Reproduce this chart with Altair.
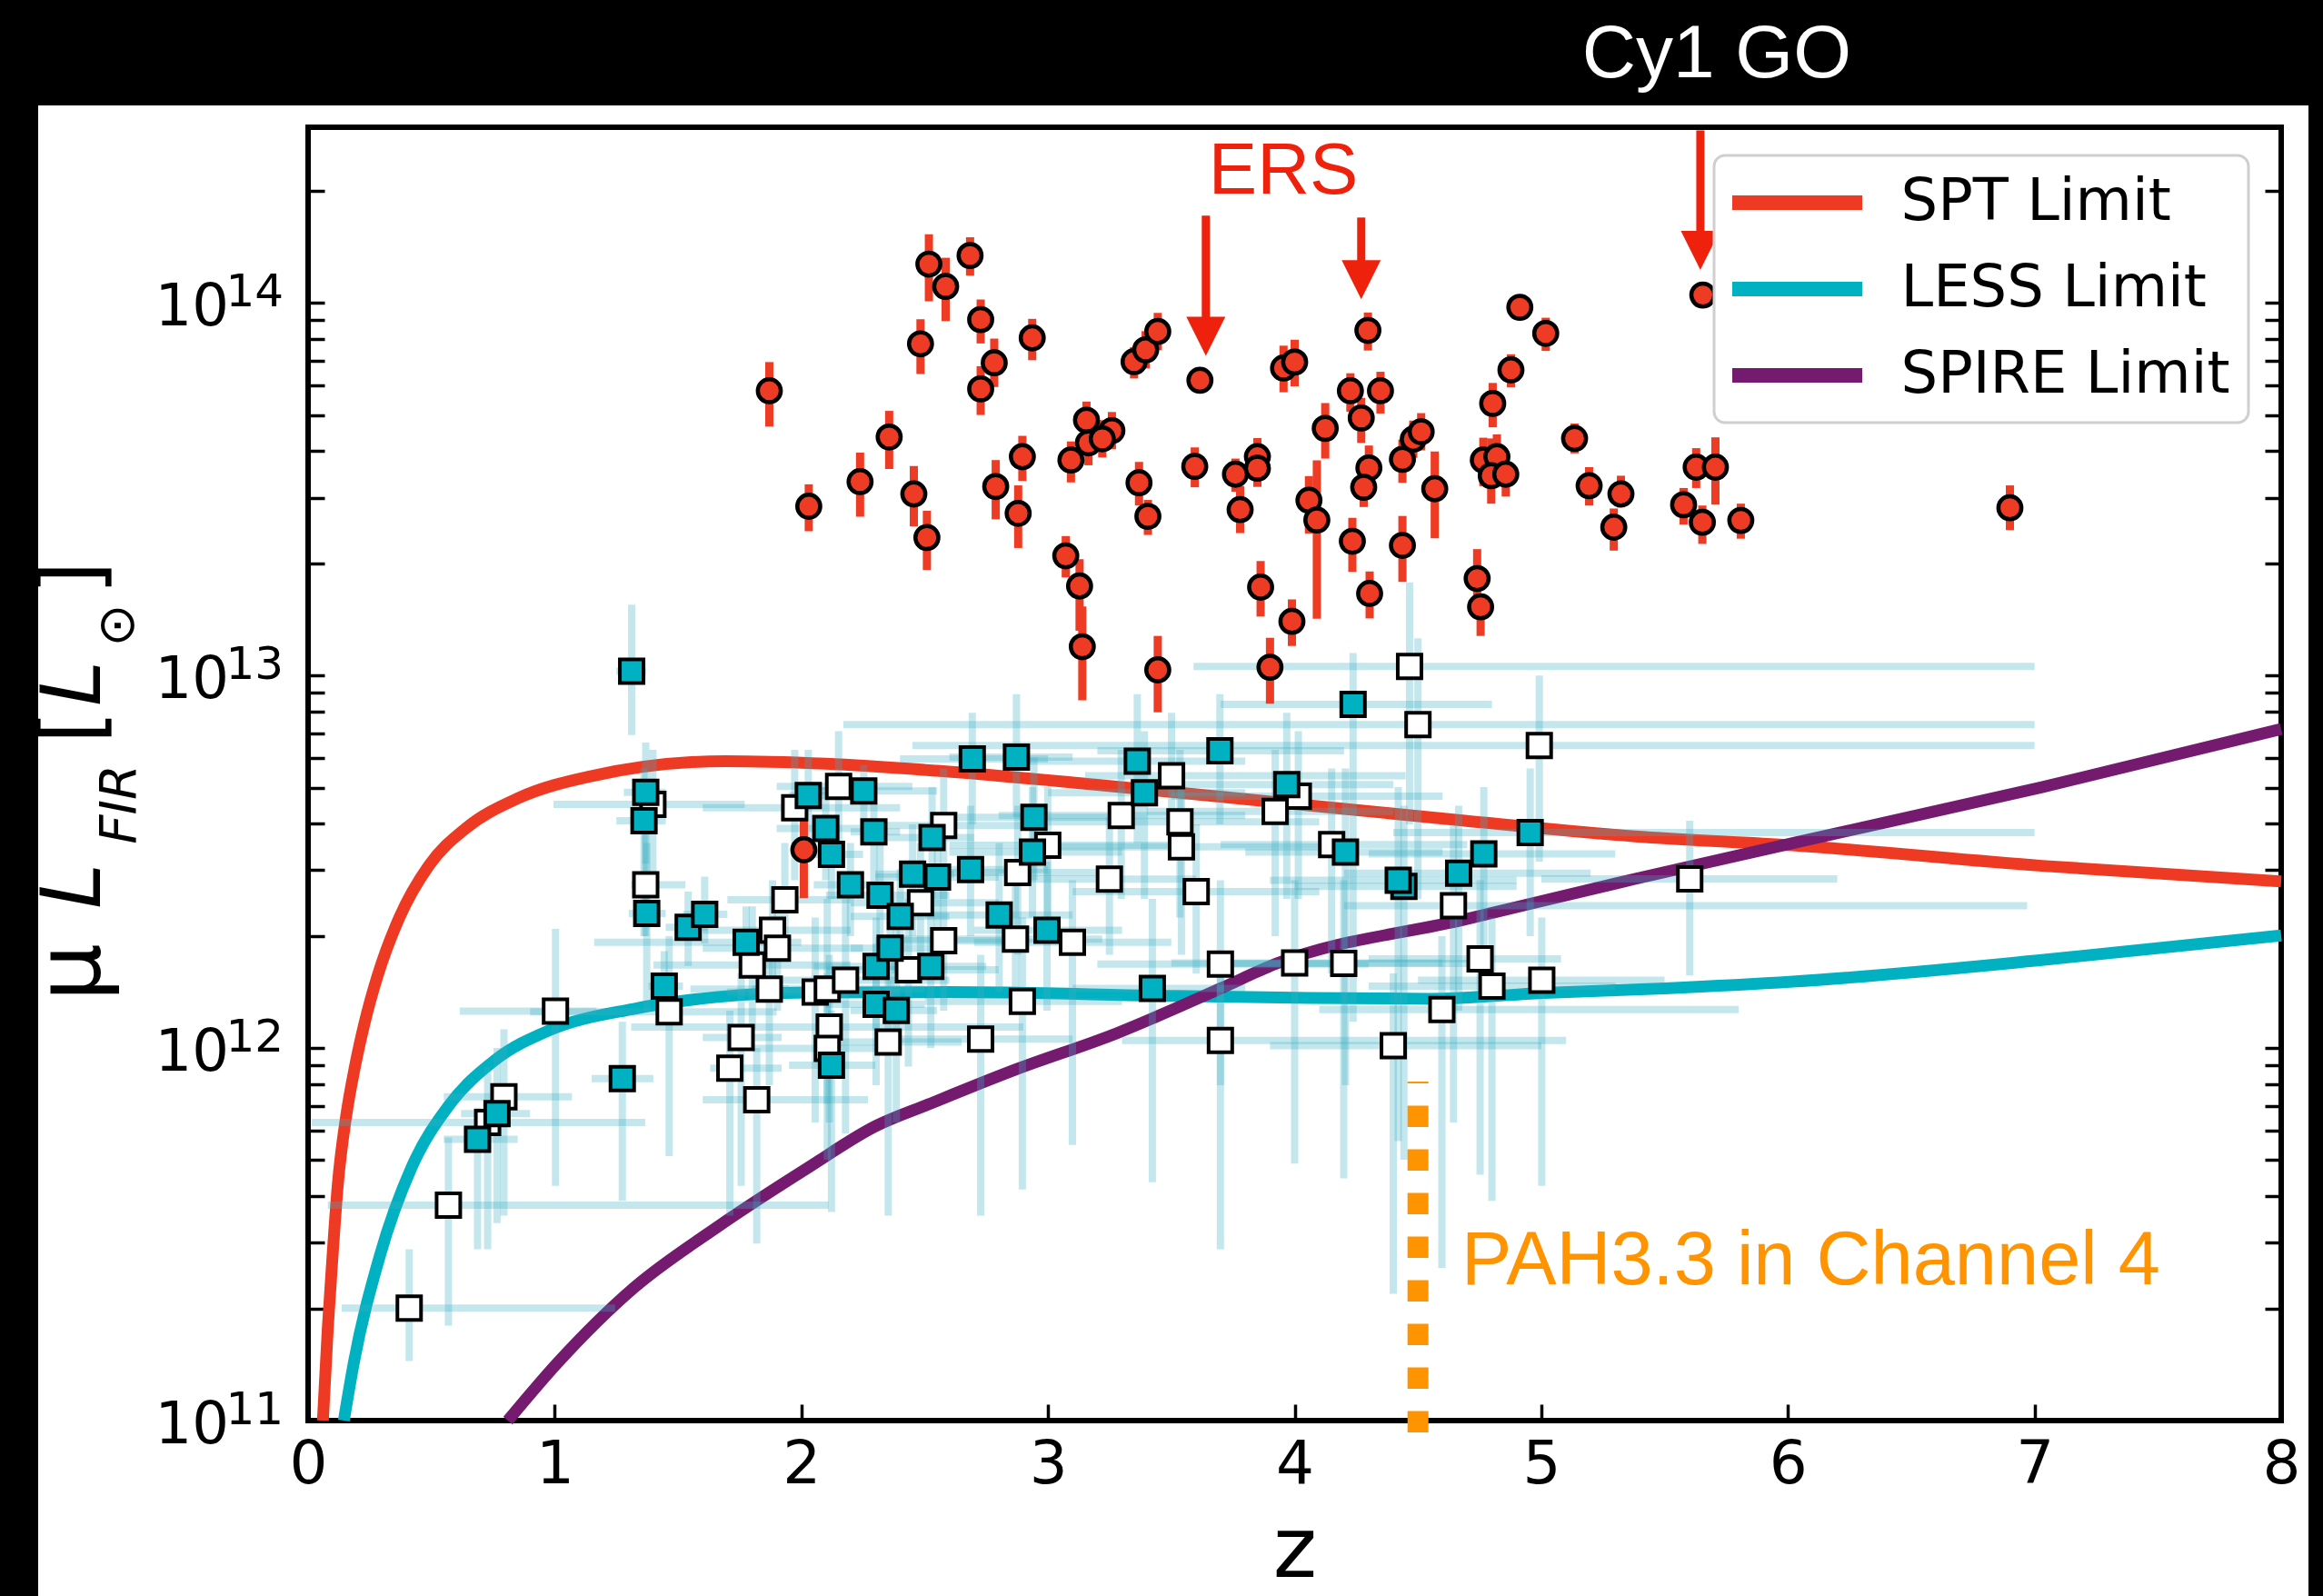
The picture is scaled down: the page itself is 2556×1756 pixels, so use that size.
import altair as alt
import pandas as pd

# ---------------- detection-limit curves ----------------
spt_z = [0.06, 0.08, 0.10, 0.12, 0.155, 0.19, 0.23, 0.28, 0.37, 0.49, 0.64, 0.85, 1.15,
         1.69, 2.10, 2.55, 3.19, 3.94, 4.69, 5.38, 6.02, 7.03, 8.0]
spt_logL = [11.0, 11.25, 11.45, 11.63, 11.82, 11.95, 12.07, 12.19, 12.35, 12.49, 12.59, 12.67, 12.73,
            12.77, 12.763, 12.744, 12.707, 12.659, 12.61, 12.568, 12.544, 12.489, 12.447]

less_z = [0.145, 0.185, 0.29, 0.42, 0.57, 0.755, 0.98, 1.32, 1.66, 2.03, 2.6, 3.49, 4.0,
          4.55, 5.01, 5.5, 6.02, 7.03, 8.0]
less_logL = [11.0, 11.154, 11.44, 11.68, 11.845, 11.966, 12.048, 12.105, 12.137, 12.149, 12.15,
             12.14, 12.135, 12.132, 12.148, 12.16, 12.178, 12.236, 12.302]

spire_z = [0.81, 1.01, 1.32, 1.66, 2.03, 2.30, 2.52, 2.86, 3.28, 3.70, 3.92, 4.69, 5.38,
           6.02, 7.03, 8.0]
spire_logL = [11.0, 11.154, 11.356, 11.52, 11.68, 11.79, 11.85, 11.94, 12.04, 12.16, 12.225,
              12.345, 12.454, 12.55, 12.70, 12.856]

curve_names = ["SPT Limit", "LESS Limit", "SPIRE Limit"]
curve_colors = ["#EE3A23", "#00B1C1", "#741B6F"]

# ---------------- SPT sources (red circles): z, log L, error down/up (dex) ----------------
spt_src_z = [1.87, 2.03, 2.238, 2.356, 2.456, 2.509, 2.483, 2.517, 2.585, 2.684,
             2.727, 2.782, 2.727, 2.936, 2.788, 2.896, 2.879, 3.072, 3.128, 3.139,
             3.093, 3.156, 3.164, 3.259, 3.22, 3.349, 3.396, 3.445, 3.616, 3.955,
             4.0, 4.297, 4.226, 4.348, 4.27, 4.124, 4.913, 5.018, 4.877, 4.803,
             5.655, 5.135, 3.369, 3.405, 3.595, 3.76, 3.849, 3.849, 3.779, 4.058,
             4.09, 4.301, 4.28, 4.437, 4.481, 4.513, 4.568, 4.765, 4.82, 4.797,
             4.856, 5.194, 5.323, 5.294, 5.577, 5.628, 5.706, 5.653, 5.809, 3.445,
             3.862, 3.989, 3.9, 4.234, 4.304, 4.437, 4.74, 4.754, 6.90, 2.01]
spt_src_logL = [13.764, 13.454, 13.52, 13.64, 13.487, 13.370, 13.89, 14.104, 14.044, 14.127,
                13.955, 13.839, 13.769, 13.906, 13.507, 13.587, 13.435, 13.321, 13.24, 13.077,
                13.578, 13.685, 13.624, 13.657, 13.635, 13.842, 13.874, 13.923, 13.792, 13.825,
                13.841, 13.926, 13.764, 13.764, 13.691, 13.663, 13.988, 13.918, 13.82, 13.73,
                14.021, 13.636, 13.517, 13.427, 13.561, 13.54, 13.587, 13.556, 13.445, 13.47,
                13.417, 13.557, 13.505, 13.58, 13.634, 13.654, 13.501, 13.578, 13.587, 13.536,
                13.54, 13.509, 13.487, 13.398, 13.458, 13.559, 13.559, 13.411, 13.416, 13.015,
                13.237, 13.145, 13.022, 13.36, 13.22, 13.349, 13.26, 13.184, 13.45, 12.532]
spt_src_err_lo = [0.096, 0.067, 0.094, 0.086, 0.087, 0.087, 0.081, 0.10, 0.093, 0.054,
                  0.064, 0.065, 0.07, 0.06, 0.088, 0.065, 0.093, 0.058, 0.12, 0.144,
                  0.06, 0.06, 0.06, 0.05, 0.05, 0.045, 0.05, 0.05, 0.02, 0.065,
                  0.065, 0.054, 0.056, 0.061, 0.067, 0.081, 0.03, 0.047, 0.047, 0.064,
                  0.02, 0.04, 0.061, 0.05, 0.056, 0.047, 0.05, 0.05, 0.063, 0.089,
                  0.265, 0.064, 0.053, 0.063, 0.05, 0.05, 0.133, 0.07, 0.07, 0.075,
                  0.06, 0.053, 0.036, 0.063, 0.053, 0.056, 0.10, 0.058, 0.049, 0.114,
                  0.079, 0.066, 0.098, 0.082, 0.067, 0.098, 0.07, 0.078, 0.06, 0.13]
spt_src_err_hi = [0.077, 0.059, 0.078, 0.07, 0.075, 0.072, 0.066, 0.08, 0.077, 0.049,
                  0.054, 0.065, 0.061, 0.051, 0.071, 0.056, 0.075, 0.053, 0.072, 0.108,
                  0.05, 0.05, 0.05, 0.05, 0.05, 0.039, 0.05, 0.05, 0.02, 0.06,
                  0.06, 0.048, 0.047, 0.051, 0.054, 0.068, 0.03, 0.042, 0.042, 0.055,
                  0.02, 0.04, 0.056, 0.044, 0.051, 0.042, 0.05, 0.05, 0.063, 0.065,
                  0.16, 0.06, 0.059, 0.053, 0.05, 0.05, 0.10, 0.06, 0.06, 0.10,
                  0.047, 0.05, 0.049, 0.05, 0.045, 0.051, 0.08, 0.045, 0.045, 0.091,
                  0.07, 0.059, 0.079, 0.063, 0.059, 0.079, 0.079, 0.035, 0.06, 0.11]

# ---------------- filled (cyan) squares: z, log L, z range, log L range ----------------
less_src_z = [0.687, 0.766, 1.274, 1.312, 1.369, 1.362, 1.373, 1.541, 1.608, 1.444,
              1.776, 2.028, 2.253, 2.099, 2.294, 2.122, 2.199, 2.319, 2.401, 2.451,
              2.53, 2.122, 2.303, 2.385, 2.303, 2.525, 2.36, 2.693, 2.872, 3.362,
              3.391, 3.697, 4.237, 3.968, 4.206, 4.955, 4.767, 4.665, 4.443, 4.42,
              2.686, 2.943, 2.937, 2.552, 2.802, 2.996, 3.423]
less_src_logL = [11.755, 11.824, 11.918, 13.011, 12.686, 12.61, 12.361, 12.324, 12.359, 12.166,
                 12.284, 12.678, 12.69, 12.589, 12.58, 12.52, 12.438, 12.41, 12.353, 12.467,
                 12.565, 11.954, 12.117, 12.101, 12.219, 12.219, 12.268, 12.776, 12.781, 12.77,
                 12.685, 12.798, 12.922, 12.707, 12.526, 12.578, 12.521, 12.469, 12.434, 12.45,
                 12.479, 12.619, 12.526, 12.459, 12.357, 12.316, 12.16]
less_src_zlo = [0.55, 0.62, 1.15, 1.25, 1.28, 1.25, 1.30, 1.45, 1.52, 1.38,
                1.16, 1.95, 2.03, 1.90, 2.20, 2.00, 2.05, 2.10, 2.20, 2.30,
                2.35, 1.95, 2.10, 2.20, 2.05, 2.35, 2.20, 2.40, 2.60, 2.90,
                3.00, 3.20, 3.70, 3.50, 3.80, 4.40, 4.30, 4.20, 4.00, 3.90,
                2.40, 2.60, 2.60, 2.30, 2.50, 2.70, 3.10]
less_src_zhi = [0.85, 0.90, 1.40, 1.37, 1.45, 1.45, 1.45, 1.62, 1.70, 1.52,
                2.00, 2.12, 2.55, 2.30, 2.40, 2.25, 2.35, 2.60, 2.60, 2.62,
                2.70, 2.30, 2.50, 2.55, 2.55, 2.75, 2.55, 3.00, 3.10, 3.80,
                3.80, 4.20, 4.80, 4.40, 4.60, 7.00, 5.30, 5.20, 4.90, 4.90,
                3.00, 3.30, 3.30, 2.80, 3.10, 3.30, 3.80]
less_src_llo = [11.46, 11.53, 11.59, 12.84, 12.495, 12.30, 12.10, 12.22, 12.28, 12.07,
                12.20, 12.55, 12.60, 12.45, 12.40, 12.40, 12.30, 12.25, 12.20, 12.30,
                12.40, 11.56, 11.90, 11.80, 12.05, 12.00, 12.10, 12.60, 12.62, 12.55,
                12.40, 12.60, 12.07, 12.40, 11.90, 12.30, 12.20, 12.10, 11.70, 11.75,
                12.30, 12.45, 12.35, 12.25, 12.15, 12.10, 11.64]
less_src_lhi = [11.84, 12.00, 12.07, 13.19, 12.82, 12.75, 12.55, 12.42, 12.46, 12.26,
                12.38, 12.80, 12.76, 12.70, 12.72, 12.60, 12.55, 12.55, 12.48, 12.60,
                12.70, 12.10, 12.28, 12.35, 12.35, 12.40, 12.40, 12.90, 12.95, 12.95,
                12.85, 12.95, 13.06, 12.90, 12.75, 12.75, 12.70, 12.65, 12.65, 12.70,
                12.65, 12.78, 12.70, 12.60, 12.55, 12.50, 12.40]

# ---------------- open (white) squares ----------------
open_src_z = [0.41, 0.569, 0.728, 0.794, 1.003, 1.398, 1.369, 1.464, 1.973, 2.151,
              1.933, 1.883, 1.903, 1.801, 1.87, 2.056, 2.105, 2.179, 2.113, 2.105,
              1.756, 1.71, 1.819, 2.352, 2.434, 2.483, 2.577, 2.577, 2.999, 2.877,
              2.868, 3.099, 2.896, 2.727, 3.501, 3.297, 4.466, 4.5, 4.992, 4.015,
              3.921, 3.535, 3.541, 4.15, 4.644, 3.601, 3.249, 3.699, 4.0, 4.199,
              4.752, 4.8, 5.002, 4.597, 3.699, 4.4, 5.602]
open_src_logL = [11.302, 11.578, 11.80, 11.869, 12.099, 12.654, 12.438, 12.097, 12.645, 12.702,
                 12.398, 12.316, 12.268, 12.223, 12.158, 12.15, 12.158, 12.182, 12.056, 11.999,
                 12.028, 11.946, 11.861, 12.016, 12.21, 12.39, 12.597, 12.288, 12.544, 12.471,
                 12.292, 12.284, 12.125, 12.024, 12.731, 12.624, 13.024, 12.868, 12.812, 12.676,
                 12.635, 12.607, 12.54, 12.546, 12.382, 12.42, 12.453, 12.225, 12.228, 12.227,
                 12.239, 12.166, 12.182, 12.103, 12.02, 12.006, 12.454]
open_src_zlo = [0.136, 0.08, 0.014, 0.55, 0.615, 0.995, 1.31, 0.90, 1.60, 1.90,
                1.70, 1.60, 1.60, 1.40, 1.55, 1.70, 1.80, 1.90, 1.31, 1.80,
                1.60, 1.63, 1.60, 2.05, 2.10, 2.20, 2.30, 2.30, 2.60, 2.50,
                2.40, 2.70, 2.50, 2.40, 3.15, 2.80, 3.59, 2.17, 2.45, 3.50,
                3.40, 3.00, 3.00, 3.70, 4.20, 3.10, 2.90, 3.20, 3.50, 3.70,
                4.30, 4.30, 4.50, 4.10, 3.30, 3.90, 5.00]
open_src_zhi = [1.245, 2.11, 1.367, 1.07, 1.17, 1.77, 1.53, 1.90, 2.40, 2.45,
                2.20, 2.20, 2.25, 2.20, 1.95, 2.40, 2.50, 2.60, 2.90, 2.40,
                1.92, 1.92, 2.27, 2.65, 2.80, 2.80, 2.90, 2.90, 3.50, 3.30,
                3.22, 3.50, 3.30, 3.10, 4.45, 3.80, 7.00, 7.00, 7.00, 4.60,
                4.40, 4.10, 4.20, 4.70, 6.97, 4.10, 3.60, 4.30, 4.60, 4.70,
                5.08, 5.30, 5.50, 5.80, 5.10, 5.00, 6.20]
open_src_llo = [11.16, 11.255, 11.46, 11.55, 11.63, 12.45, 12.30, 11.71, 12.45, 12.55,
                12.25, 12.15, 12.10, 12.05, 11.90, 11.80, 11.85, 11.77, 11.80, 11.70,
                11.63, 11.55, 11.475, 11.55, 11.95, 12.20, 12.40, 12.10, 12.35, 12.25,
                12.10, 11.74, 11.62, 11.55, 12.55, 12.40, 12.60, 12.40, 12.50, 12.40,
                12.30, 12.35, 12.25, 12.20, 11.80, 12.20, 12.25, 11.90, 11.69, 11.65,
                11.66, 11.59, 11.63, 11.41, 11.46, 11.34, 12.195]
open_src_lhi = [11.46, 11.76, 11.95, 12.05, 12.32, 12.80, 12.58, 12.30, 12.80, 12.85,
                12.55, 12.45, 12.40, 12.38, 12.35, 12.35, 12.40, 12.40, 12.25, 12.20,
                12.20, 12.10, 12.00, 12.20, 12.40, 12.55, 12.75, 12.45, 12.70, 12.65,
                12.45, 12.45, 12.35, 12.25, 12.90, 12.80, 13.25, 13.10, 13.00, 12.85,
                12.80, 12.80, 12.70, 12.75, 12.60, 12.60, 12.62, 12.45, 12.45, 12.45,
                12.45, 12.35, 12.35, 12.30, 12.20, 12.20, 12.61]

# ---------------- annotations ----------------
arrow_z = [3.64, 4.27, 5.645]
arrow_top_logL = [14.234, 14.229, 14.463]
arrow_end_logL = [13.94, 14.10, 14.18]
arrow_head_logL = [13.910, 14.062, 14.141]
ers_pos = (3.954, 14.293)
cy1_pos = (5.711, 14.605)
pah_z = 4.5
pah_span_logL = (10.968, 11.91)
pah_text_pos = (4.676, 11.366)

x_tick_values = list(range(9))
y_label_decades = [11, 12, 13, 14]
y_tick_values = [m * 10 ** e for e in range(11, 15) for m in range(1, 10) if m * 10 ** e <= 2.96e14]

# ---------------- tables ----------------
curve_df = pd.concat(
    [pd.DataFrame({"curve": n, "z": zz, "logL": ll})
     for n, zz, ll in zip(curve_names, [spt_z, less_z, spire_z], [spt_logL, less_logL, spire_logL])],
    ignore_index=True)
curve_df["L"] = 10 ** curve_df["logL"]

red_df = pd.DataFrame({"z": spt_src_z, "logL": spt_src_logL,
                       "elo": spt_src_err_lo, "ehi": spt_src_err_hi})
red_df["L"] = 10 ** red_df["logL"]
red_df["Llo"] = 10 ** (red_df["logL"] - red_df["elo"])
red_df["Lhi"] = 10 ** (red_df["logL"] + red_df["ehi"])


def sq_table(z, l, zlo, zhi, llo, lhi):
    d = pd.DataFrame({"z": z, "logL": l, "zlo": zlo, "zhi": zhi, "llo": llo, "lhi": lhi})
    d["L"] = 10 ** d["logL"]
    d["Llo"] = 10 ** d["llo"]
    d["Lhi"] = 10 ** d["lhi"]
    return d


cyan_df = sq_table(less_src_z, less_src_logL, less_src_zlo, less_src_zhi, less_src_llo, less_src_lhi)
open_df = sq_table(open_src_z, open_src_logL, open_src_zlo, open_src_zhi, open_src_llo, open_src_lhi)
sq_all = pd.concat([open_df, cyan_df], ignore_index=True)

arrow_df = pd.DataFrame({"z": arrow_z,
                         "top": [10 ** v for v in arrow_top_logL],
                         "end": [10 ** v for v in arrow_end_logL],
                         "head": [10 ** v for v in arrow_head_logL]})
ylab_df = pd.DataFrame({"L": [10 ** k for k in y_label_decades],
                        "base": ["10"] * len(y_label_decades),
                        "exp": [str(k) for k in y_label_decades]})
one = pd.DataFrame({"k": [0]})

# ---------------- scales & axes ----------------
W, H = 2171, 1423
xs = alt.Scale(domain=[0, 8], nice=False, zero=False)
ys = alt.Scale(type="log", domain=[1e11, 2.96e14], nice=False)

RED = "#EE3B24"
ARROW = "#EE220C"
CYAN = "#00B1C1"
ORANGE = "#FF9300"
ERRC = "#3DB0C4"

x_axis = alt.Axis(orient="bottom", values=x_tick_values, format="d", tickSize=18, offset=-18,
                  domain=False, grid=False, tickColor="black", tickWidth=3.5,
                  labelFont="DejaVu Sans", labelFontSize=66, labelColor="black", labelPadding=16,
                  labelFlush=False, labelOverlap=False, title="z", titleFont="DejaVu Sans",
                  titleFontSize=92, titleFontWeight="normal", titleColor="black",
                  titleBaseline="alphabetic", titleY=189)
y_axis = alt.Axis(orient="left", values=y_tick_values, labels=False, tickSize=18, offset=-18,
                  domain=False, grid=False, tickColor="black", tickWidth=3.5, title=None)
y_axis_right = alt.Axis(orient="right", values=y_tick_values, labels=False, tickSize=18, offset=-18,
                        domain=False, grid=False, tickColor="black", tickWidth=3.5, title=None)


def X(f):
    return alt.X(f, type="quantitative", scale=xs)


def Y(f):
    return alt.Y(f, type="quantitative", scale=ys)


def XD(v):
    return alt.XDatum(v, type="quantitative", scale=xs)


def YD(v):
    return alt.YDatum(v, type="quantitative", scale=ys)


legend = alt.Legend(orient="none", legendX=1547, legendY=31, direction="vertical", title=None,
                    symbolType="M-3,0L3,0", symbolSize=2272, symbolStrokeWidth=16,
                    symbolOffset=39.5, labelOffset=82, labelFont="DejaVu Sans", labelFontSize=64,
                    labelColor="black", labelLimit=1000, padding=20, rowPadding=31,
                    fillColor="white", strokeColor="#cfcfcf", cornerRadius=12)

# ---------------- layers ----------------
bg_top = alt.Chart(one).mark_rect(color="black").encode(
    x=alt.value(-339), x2=alt.value(2217), y=alt.value(-140), y2=alt.value(-24))
bg_left = alt.Chart(one).mark_rect(color="black").encode(
    x=alt.value(-339), x2=alt.value(-297), y=alt.value(-140), y2=alt.value(1616))
bg_right = alt.Chart(one).mark_rect(color="black").encode(
    x=alt.value(2201), x2=alt.value(2217), y=alt.value(-140), y2=alt.value(1616))

curves = alt.Chart(curve_df).mark_line(strokeWidth=13, interpolate="monotone").encode(
    x=alt.X("z:Q", scale=xs, axis=x_axis),
    y=alt.Y("L:Q", scale=ys, axis=y_axis),
    color=alt.Color("curve:N", scale=alt.Scale(domain=curve_names, range=curve_colors), legend=legend),
)

sq_xerr = alt.Chart(sq_all).mark_rule(strokeWidth=8, color=ERRC, opacity=0.3).encode(
    x=X("zlo"), x2="zhi:Q", y=Y("L"))
sq_yerr = alt.Chart(sq_all).mark_rule(strokeWidth=8, color=ERRC, opacity=0.3).encode(
    x=X("z"), y=Y("Llo"), y2="Lhi:Q")
red_err = alt.Chart(red_df).mark_rule(strokeWidth=9, color=RED).encode(
    x=X("z"), y=Y("Llo"), y2="Lhi:Q")

open_pts = alt.Chart(open_df).mark_point(shape="square", filled=True, fill="white", stroke="black",
                                         strokeWidth=4, size=676, opacity=1).encode(x=X("z"), y=Y("L"))
cyan_pts = alt.Chart(cyan_df).mark_point(shape="square", filled=True, fill=CYAN, stroke="black",
                                         strokeWidth=4, size=676, opacity=1).encode(x=X("z"), y=Y("L"))
red_pts = alt.Chart(red_df).mark_point(shape="circle", filled=True, fill=RED, stroke="black",
                                       strokeWidth=4.5, size=640, opacity=1).encode(x=X("z"), y=Y("L"))

pah_line = alt.Chart(one).mark_rule(color=ORANGE, strokeWidth=23, strokeDash=[23.5, 24.5]).encode(
    x=XD(pah_z), y=YD(10 ** pah_span_logL[0]), y2=alt.Y2Datum(10 ** pah_span_logL[1]))
pah_text = alt.Chart(one).mark_text(text="PAH3.3 in Channel 4", align="left", baseline="alphabetic",
                                    font="Liberation Sans", fontSize=83, color=ORANGE).encode(
    x=XD(pah_text_pos[0]), y=YD(10 ** pah_text_pos[1]))

arrow_shafts = alt.Chart(arrow_df).mark_rule(color=ARROW, strokeWidth=9).encode(
    x=X("z"), y=Y("top"), y2="end:Q")
arrow_heads = alt.Chart(arrow_df).mark_point(shape="M-1,-1L1,-1L0,1Z", filled=True, fill=ARROW,
                                             strokeWidth=0, size=1849, opacity=1).encode(
    x=X("z"), y=Y("head"))
ers_text = alt.Chart(one).mark_text(text="ERS", align="center", baseline="alphabetic",
                                    font="Liberation Sans", fontSize=80, color=ARROW).encode(
    x=XD(ers_pos[0]), y=YD(10 ** ers_pos[1]))
cy1_text = alt.Chart(one).mark_text(text="Cy1 GO", align="center", baseline="alphabetic",
                                    font="Liberation Sans", fontSize=82, color="white").encode(
    x=XD(cy1_pos[0]), y=YD(10 ** cy1_pos[1]))

# y tick labels 10^k (base + raised exponent)
ylab_base = alt.Chart(ylab_df).mark_text(align="right", baseline="alphabetic", dy=25,
                                         font="DejaVu Sans", fontSize=64, color="black").encode(
    x=alt.value(-87), y=Y("L"), text="base:N")
ylab_exp = alt.Chart(ylab_df).mark_text(align="right", baseline="alphabetic", dy=4,
                                        font="DejaVu Sans", fontSize=50, color="black").encode(
    x=alt.value(-27), y=Y("L"), text="exp:N")

# y-axis title "μ L_FIR [L_⊙]" built from rotated pieces
title_pieces = [
    ("μ", -229, 930, 100, "normal"),
    ("L", -229, 835, 90, "italic"),
    ("FIR", -190, 745, 56, "italic"),
    ("[", -229, 660, 95, "normal"),
    ("L", -229, 612, 90, "italic"),
    ("⊙", -192, 548, 56, "normal"),
    ("]", -229, 496, 95, "normal"),
]
title_layers = [
    alt.Chart(one).mark_text(text=t, angle=270, align="center", baseline="alphabetic",
                             font="DejaVu Sans", fontSize=fs, fontStyle=st, color="black").encode(
        x=alt.value(px), y=alt.value(py))
    for t, px, py, fs, st in title_pieces
]

inner = alt.layer(
    bg_top, bg_left, bg_right,
    curves, sq_xerr, sq_yerr, red_err, open_pts, cyan_pts, red_pts,
    pah_line, pah_text, arrow_shafts, arrow_heads, ers_text, cy1_text,
    ylab_base, ylab_exp,
    *title_layers,
)

right_axis_layer = alt.Chart(curve_df).mark_line(opacity=0).encode(
    x=alt.X("z:Q", scale=xs),
    y=alt.Y("L:Q", scale=ys, axis=y_axis_right),
)

chart = alt.layer(inner, right_axis_layer).resolve_axis(y="independent").properties(
    width=W, height=H, background="white", padding=0
).configure_view(stroke="black", strokeWidth=6).configure_legend(strokeWidth=3)

chart.save("out.html", embed_options={"renderer": "svg", "actions": False})
